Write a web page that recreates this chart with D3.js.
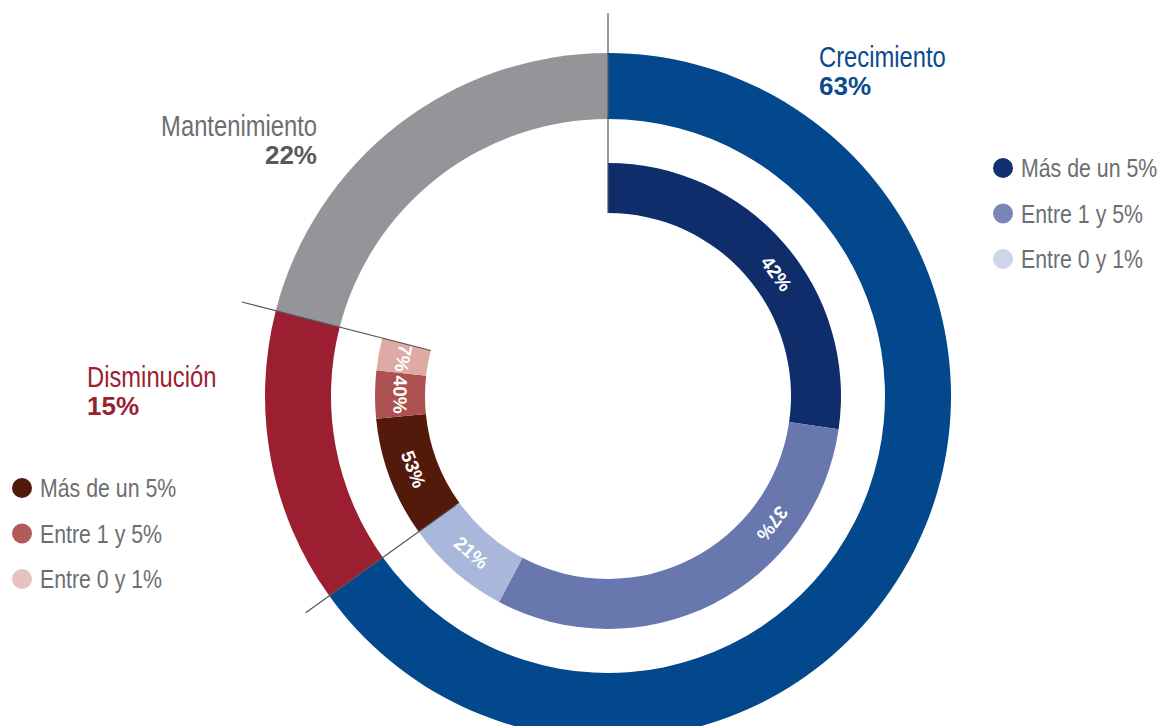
<!DOCTYPE html>
<html>
<head>
<meta charset="utf-8">
<script src="https://cdn.jsdelivr.net/npm/d3@7"></script>
<style>
  body { margin: 0; background: #fff; }
  text { font-family: "Liberation Sans", Arial, sans-serif; }
  .num { font-weight: bold; }
</style>
</head>
<body>
<script>
'use strict';

// outer ring: the three groups
const groups = ["Crecimiento", "Disminución", "Mantenimiento"];
const groupLabels = ["63%", "15%", "22%"];
// share of the circle each group takes, as it is drawn in the picture
const groupShare = [65.1, 13.9, 21.0];

// inner ring: split of the first two groups
const levels = ["Más de un 5%", "Entre 1 y 5%", "Entre 0 y 1%"];
const crecLabels = ["42%", "37%", "21%"];
const crecShare = [41.9, 46.8, 11.3];
const dismLabels = ["53%", "40%", "7%"];
const dismShare = [60.0, 23.9, 16.1];

const W = 1163, H = 726;
const c = { x: 608, y: 396 };
const outerR = { inner: 277, outer: 343 };
const innerR = { inner: 183, outer: 233 };
const narrow = 0.82; // horizontal squeeze for the condensed face

const groupColor = ["#03478C", "#9B1F31", "#939598"];
const textColor = ["#0B4A8D", "#9B1F31", "#6D6E71"];
const numColor = ["#0B4A8D", "#9B1F31", "#58595B"];
const crecColor = ["#0F2D6B", "#6878AE", "#A9B7DA"];
const dismColor = ["#531A0B", "#AE5151", "#DDABA4"];
const crecLegend = ["#10306E", "#7986BA", "#CDD5EA"];
const dismLegend = ["#521A0A", "#B35B57", "#E6C3BD"];

const svg = d3.select('body')
  .append('svg')
  .attr('width', W)
  .attr('height', H);

const g = svg.append('g')
  .attr('transform', 'translate(' + c.x + ',' + c.y + ')');

// condensed text: squeeze horizontally around its anchor
function narrowText(parent, x, y, size, color, str, anchor) {
  return parent.append('text')
    .attr('transform', 'translate(' + x + ',' + y + ')scale(' + narrow + ',1)')
    .attr('text-anchor', anchor || 'start')
    .style('font-size', size + 'px')
    .attr('fill', color)
    .text(str);
}

// outer ring
const pie = d3.pie().sort(null).value(d => d);
const outerArcs = pie(groupShare);

const outerArc = d3.arc()
  .innerRadius(outerR.inner)
  .outerRadius(outerR.outer);

g.selectAll('.outer')
  .data(outerArcs)
  .enter()
  .append('path')
  .attr('class', 'outer')
  .attr('d', outerArc)
  .attr('fill', (d, i) => groupColor[i]);

// inner ring, each split mapped onto its group's angle range
const innerArc = d3.arc()
  .innerRadius(innerR.inner)
  .outerRadius(innerR.outer);

// where along a slice the label sits (0 = start, 1 = end)
const labelAt = [[0.55, 0.27, 0.5], [0.5, 0.5, 0.5]];

function drawSplit(groupIndex, shares, labels, colors) {
  const a = outerArcs[groupIndex];
  const angle = d3.scaleLinear()
    .domain([0, d3.sum(shares)])
    .range([a.startAngle, a.endAngle]);
  const cum = d3.cumsum([0].concat(shares));
  const slices = shares.map((s, i) => ({
    startAngle: angle(cum[i]),
    endAngle: angle(cum[i + 1]),
    label: labels[i],
    color: colors[i],
    at: labelAt[groupIndex][i]
  }));

  g.selectAll('.inner' + groupIndex)
    .data(slices)
    .enter()
    .append('path')
    .attr('class', 'inner' + groupIndex)
    .attr('d', innerArc)
    .attr('fill', d => d.color);

  const rMid = (innerR.inner + innerR.outer) / 2;
  g.selectAll('.lab' + groupIndex)
    .data(slices)
    .enter()
    .append('text')
    .attr('class', 'num')
    .attr('transform', d => {
      const ang = d.startAngle + (d.endAngle - d.startAngle) * d.at;
      const x = rMid * Math.sin(ang);
      const y = -rMid * Math.cos(ang);
      let deg = ang * 180 / Math.PI;
      if (deg > 180) deg -= 180;
      return 'translate(' + x + ',' + y + ')rotate(' + deg + ')';
    })
    .attr('text-anchor', 'middle')
    .attr('dominant-baseline', 'central')
    .style('font-size', '19px')
    .attr('fill', '#fff')
    .text(d => d.label);
}

drawSplit(0, crecShare, crecLabels, crecColor);
drawSplit(1, dismShare, dismLabels, dismColor);

// separator lines on the group boundaries
const lineR = [
  { from: innerR.inner, to: 383 },
  { from: innerR.inner + 4, to: 372 },
  { from: innerR.inner, to: 378 }
];
g.selectAll('.sep')
  .data(outerArcs)
  .enter()
  .append('line')
  .attr('class', 'sep')
  .attr('x1', (d, i) => lineR[i].from * Math.sin(d.startAngle))
  .attr('y1', (d, i) => -lineR[i].from * Math.cos(d.startAngle))
  .attr('x2', (d, i) => lineR[i].to * Math.sin(d.startAngle))
  .attr('y2', (d, i) => -lineR[i].to * Math.cos(d.startAngle))
  .attr('stroke', '#555')
  .attr('stroke-width', 1.2);

// group titles
const titlePos = [
  { x: 819, y: 67, anchor: 'start' },
  { x: 87, y: 387, anchor: 'start' },
  { x: 317, y: 136, anchor: 'end' }
];
groups.forEach((name, i) => {
  narrowText(svg, titlePos[i].x, titlePos[i].y, 29, textColor[i], name, titlePos[i].anchor);
  svg.append('text')
    .attr('class', 'num')
    .attr('x', titlePos[i].x)
    .attr('y', titlePos[i].y + 28)
    .attr('text-anchor', titlePos[i].anchor)
    .style('font-size', '26px')
    .attr('fill', numColor[i])
    .text(groupLabels[i]);
});

// legends
function legend(x, y, colors) {
  const lg = svg.append('g').attr('transform', 'translate(' + x + ',' + y + ')');
  levels.forEach((lv, i) => {
    lg.append('circle')
      .attr('cx', 0)
      .attr('cy', i * 45.5)
      .attr('r', 10)
      .attr('fill', colors[i]);
    narrowText(lg, 18, i * 45.5 + 9, 26, '#6D6E71', lv);
  });
}
legend(1003, 168, crecLegend);
legend(22, 488, dismLegend);
</script>
</body>
</html>
